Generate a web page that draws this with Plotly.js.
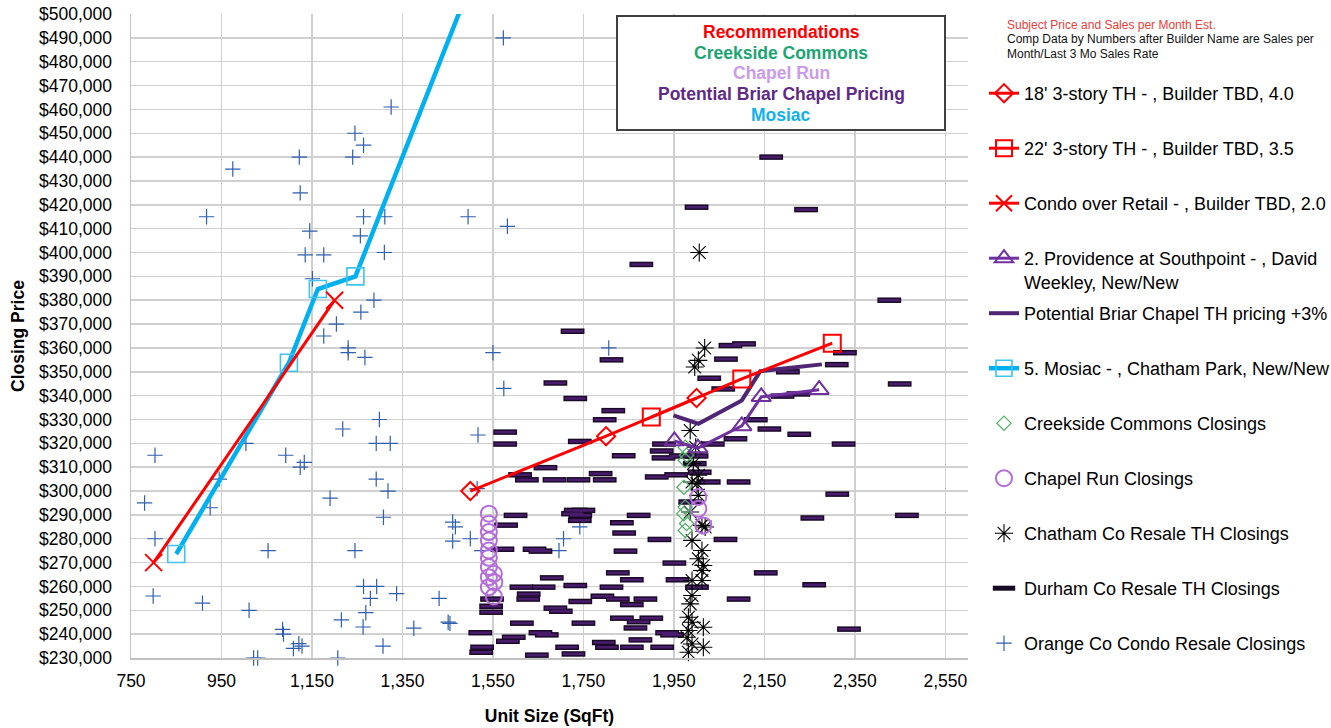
<!DOCTYPE html>
<html><head><meta charset="utf-8">
<script src="https://cdn.plot.ly/plotly-3.0.1.min.js"></script>
<style>html,body{margin:0;padding:0;background:#fff}#chart{width:1331px;height:728px}</style>
</head><body><div id="chart"></div>
<script>
// ---- Recommendation / comp lines ----
const rec18X = [1500, 1800, 2000];
const rec18Y = [300000, 323000, 339000];
const rec22X = [1900, 2100, 2300];
const rec22Y = [331000, 347000, 362000];
const condoX = [800, 1200];
const condoY = [270000, 380000];
const provX = [1951, 2003, 2100, 2143, 2271];
const provY = [321000, 318000, 327300, 339500, 342500];
const briarX = [1949, 2004, 2100, 2141, 2277];
const briarY = [331700, 328200, 338000, 350300, 353100];
const mosaicX = [850, 1099, 1163, 1246, 1520];
const mosaicY = [273600, 353800, 384700, 390000, 522000];

// ---- Closings (sqft, price) ----
const creekside = [[1975,318400],[1978,315000],[1975,312900],[1972,301600],[1975,293300],[1972,290500],[1978,286400],[1975,283500]];
const chapelRun = [[1541,290500],[1541,286300],[1541,282800],[1541,279300],[1541,275100],[1541,272000],[1541,268100],[1552,265300],[1541,263900],[1553,261800],[1541,259700],[1552,255800],[2004,297500],[2004,292600],[2015,285600]];
const chatham = [[2006,400000],[2018,360000],[2004,354800],[1996,352000],[1986,325400],[1998,318400],[1993,311500],[2004,306600],[1990,303800],[2001,303100],[2004,298200],[1986,291200],[2012,285600],[2019,284900],[1990,279300],[2012,275100],[2004,271600],[2015,268800],[2012,266700],[1990,262500],[2012,262500],[1990,256200],[1986,252700],[1982,247100],[1990,245000],[2015,242900],[1982,241500],[1979,238700],[1990,235900],[2015,234500],[1982,232400]];
const durham = [[2165,440000],[2000,419000],[2242,418000],[1878,395000],[2426,380000],[1726,367000],[2075,361000],[2105,361700],[2065,355300],[1812,355000],[2328,358000],[2310,353000],[2028,347300],[1688,345300],[2059,342800],[2202,350000],[2190,339800],[2225,340700],[2449,344900],[1732,338800],[1816,333700],[1797,329900],[1577,324700],[1577,319700],[1742,320800],[1839,314800],[1666,309800],[1610,306800],[1625,304700],[1686,304700],[1739,304700],[1788,307300],[1797,304700],[1912,305900],[1955,306800],[1928,319700],[1923,316800],[1927,313900],[1965,314700],[2000,314700],[2036,319700],[2086,321900],[2131,329900],[2161,326000],[2227,323800],[2325,319700],[1996,311500],[2007,307900],[2027,303800],[2093,303800],[2311,298700],[1986,295400],[1600,289800],[1579,285700],[1733,291900],[1750,291900],[1727,290500],[1743,289800],[1742,287700],[1835,286700],[1872,289800],[1840,282400],[1918,279700],[2064,279700],[2256,288700],[2465,289800],[1571,275600],[1642,275600],[1655,274800],[1843,274800],[1951,269800],[1958,262800],[2153,265700],[2260,260700],[2001,259700],[1680,263600],[1613,259700],[1662,259700],[1732,260400],[1812,259700],[1826,265700],[1857,262800],[1629,256800],[1628,254700],[1743,253700],[1792,255900],[1826,254700],[1857,252400],[1887,254700],[2093,254700],[1548,254700],[1546,251700],[1546,249200],[1688,250900],[1700,249600],[1614,244600],[1750,244600],[1835,246700],[1872,245200],[1900,246700],[1865,242600],[2337,242100],[1522,240600],[1655,240600],[1669,239700],[1596,238700],[1583,237000],[1795,236500],[1802,234500],[1876,237600],[1857,234500],[1924,234500],[1714,234500],[1728,231700],[1526,234500],[1524,232400],[1647,231200],[1655,229700],[1684,229700],[1721,229700],[1773,229700],[1935,240600],[1946,239700]];
const orangeCo = [[1325,461000],[1245,450000],[1264,445000],[1122,440000],[1240,440000],[975,435000],[1124,425000],[917,415000],[1264,415000],[1311,415000],[1495,415000],[1145,409000],[1257,407000],[1135,399000],[1176,399000],[1310,400000],[1151,389000],[1287,380000],[1258,375000],[1204,370000],[1176,365000],[1230,360000],[1230,358000],[1267,356000],[1573,490000],[1582,411000],[1550,358000],[1806,360000],[1574,343000],[1517,323500],[1515,301000],[1299,330000],[1218,326000],[1292,320000],[1323,320000],[1004,320000],[803,315000],[1092,315000],[1124,310000],[1133,312000],[1292,305000],[1318,300000],[945,305000],[1190,297000],[780,295000],[925,293000],[1308,289000],[803,280000],[1461,287000],[1467,285000],[1461,279000],[1500,280000],[1053,275000],[1245,275000],[799,256000],[908,253000],[1011,250000],[1264,260000],[1293,260000],[1337,257000],[1279,255000],[1431,255000],[1269,249000],[1263,243000],[1375,242500],[1215,246000],[1451,245000],[1455,244500],[1085,242000],[1087,240000],[1121,236000],[1109,234000],[1128,235000],[1307,235000],[1021,230000],[1030,230000],[1207,230000],[1525,275000],[1742,285000],[1706,280000],[1696,275000]];

// ---- Text ----
const seriesNames = [
  "18' 3-story TH - , Builder TBD, 4.0",
  "22' 3-story TH - , Builder TBD, 3.5",
  "Condo over Retail - , Builder TBD, 2.0",
  "2. Providence at Southpoint - , David<br>Weekley, New/New",
  "Potential Briar Chapel TH pricing +3%",
  "5. Mosiac - , Chatham Park, New/New",
  "Creekside Commons Closings",
  "Chapel Run Closings",
  "Chatham Co Resale TH Closings",
  "Durham Co Resale TH Closings",
  "Orange Co Condo Resale Closings"
];
const boxLines = ["Recommendations", "Creekside Commons", "Chapel Run", "Potential Briar Chapel Pricing", "Mosiac"];
const noteLines = ["Subject Price and Sales per Month Est.", "Comp Data by Numbers after Builder Name are Sales per", "Month/Last 3 Mo Sales Rate"];

const FONT = "Liberation Sans, Arial, sans-serif";
const xs = a => a.map(p => p[0]);
const ys = a => a.map(p => p[1]);
const nm = (i) => seriesNames[i].indexOf('<br>') >= 0 ? seriesNames[i] : seriesNames[i] + '<br> ';

const traces = [
  {type:'scatter', mode:'markers', x:xs(orangeCo), y:ys(orangeCo), name:nm(10), legendrank:11, legendgroup:'g11',
   marker:{symbol:'cross-thin-open', size:11, color:'#2F5FAE', line:{width:1.2, color:'#2F5FAE'}}, cliponaxis:false},
  {type:'scatter', mode:'markers', x:xs(durham), y:ys(durham), name:nm(9), legendrank:10, legendgroup:'g10',
   marker:{symbol:'line-ew-open', size:17, color:'#1A0A26', line:{width:5.5, color:'#1A0A26'}}, cliponaxis:false},
  {type:'scatter', mode:'markers', x:xs(durham), y:ys(durham), showlegend:false, legendgroup:'g10', hoverinfo:'skip',
   marker:{symbol:'line-ew-open', size:15, color:'#4A1C6E', line:{width:2.5, color:'#4A1C6E'}}, cliponaxis:false},
  {type:'scatter', mode:'markers', x:xs(chatham), y:ys(chatham), name:nm(8), legendrank:9, legendgroup:'g9',
   marker:{symbol:'asterisk-open', size:15, color:'#000000', line:{width:1.1, color:'#000000'}}, cliponaxis:false},
  {type:'scatter', mode:'markers', x:xs(chapelRun), y:ys(chapelRun), name:nm(7), legendrank:8, legendgroup:'g8',
   marker:{symbol:'circle-open', size:16, color:'#B56CDB', line:{width:2, color:'#B56CDB'}}, cliponaxis:false},
  {type:'scatter', mode:'markers', x:xs(creekside), y:ys(creekside), name:nm(6), legendrank:7, legendgroup:'g7',
   marker:{symbol:'diamond-open', size:11, color:'#4DAF62', line:{width:1.2, color:'#4DAF62'}}, cliponaxis:false},
  {type:'scatter', mode:'lines+markers', x:mosaicX, y:mosaicY, name:nm(5), legendrank:6, legendgroup:'g6',
   line:{color:'#00B0F0', width:4.5}, marker:{symbol:'square-open', size:17, color:'#3EC3F2', line:{width:1.6, color:'#3EC3F2'}}, cliponaxis:true},
  {type:'scatter', mode:'lines', x:briarX, y:briarY, name:nm(4), legendrank:5, legendgroup:'g5',
   line:{color:'#4E2674', width:4}},
  {type:'scatter', mode:'lines+markers', x:provX, y:provY, name:nm(3), legendrank:4, legendgroup:'g4',
   line:{color:'#7030A0', width:3}, marker:{symbol:'triangle-up-open', size:17, color:'#7030A0', line:{width:2, color:'#7030A0'}}, cliponaxis:false},
  {type:'scatter', mode:'lines+markers', x:condoX, y:condoY, name:nm(2), legendrank:3, legendgroup:'g3',
   line:{color:'#FF0000', width:3}, marker:{symbol:'x-thin-open', size:17, color:'#FF0000', line:{width:2, color:'#FF0000'}}, cliponaxis:false},
  {type:'scatter', mode:'lines+markers', x:rec22X, y:rec22Y, name:nm(1), legendrank:2, legendgroup:'g2',
   line:{color:'#FF0000', width:3}, marker:{symbol:'square-open', size:17, color:'#FF0000', line:{width:2, color:'#FF0000'}}, cliponaxis:false},
  {type:'scatter', mode:'lines+markers', x:rec18X, y:rec18Y, name:nm(0), legendrank:1, legendgroup:'g1',
   line:{color:'#FF0000', width:3}, marker:{symbol:'diamond-open', size:14, color:'#FF0000', line:{width:2, color:'#FF0000'}}, cliponaxis:false}
];

// plot area: x 131..968 px, y 14..658 px
const L = 131, T = 14, W = 837, H = 644;
const px2x = p => (p - L) / W;
const px2y = p => (T + H - p) / H;

const boxColors = ['#FF0000', '#1BA572', '#C99BEA', '#5E2A86', '#12B1EC'];
const boxYs = [32, 53, 73.5, 94, 115];
const annotations = boxLines.map((t, i) => ({
  xref:'paper', yref:'paper', x:px2x(781), y:px2y(boxYs[i]), xanchor:'center', yanchor:'middle',
  text:t, showarrow:false, font:{family:FONT, size:17.5, weight:'bold', color:boxColors[i]}
}));
const noteColors = ['#E8403A', '#111111', '#111111'];
const noteYs = [25, 39, 53.5];
noteLines.forEach((t, i) => annotations.push({
  xref:'paper', yref:'paper', x:px2x(1005), y:px2y(noteYs[i]), xanchor:'left', yanchor:'middle',
  text:t, showarrow:false, font:{family:FONT, size:12, color:noteColors[i]}
}));

const layout = {
  width:1331, height:728,
  margin:{l:L, r:1331 - L - W, t:T, b:728 - T - H, autoexpand:false},
  paper_bgcolor:'#ffffff', plot_bgcolor:'#ffffff',
  font:{family:FONT, color:'#000000'},
  showlegend:true,
  legend:{x:px2x(984), y:px2y(75), xanchor:'left', yanchor:'top', valign:'top',
          traceorder:'grouped', tracegroupgap:5.2, font:{family:FONT, size:18, color:'#000000'},
          bgcolor:'rgba(0,0,0,0)', borderwidth:0},
  xaxis:{range:[750, 2600], tick0:750, dtick:200, tickformat:',d', ticks:'', showgrid:true,
         gridcolor:'#D0D0D0', gridwidth:1.5, zeroline:false, showline:true, linecolor:'#C0C0C0', linewidth:1.5,
         tickfont:{family:FONT, size:17.5, color:'#000000'}, ticklabelstandoff:6,
         title:{text:'Unit Size (SqFt)', font:{family:FONT, size:17.5, weight:'bold', color:'#000000'}, standoff:20}},
  yaxis:{range:[230000, 500000], dtick:10000, tickformat:',d', tickprefix:'$', ticks:'', showgrid:true,
         gridcolor:'#D0D0D0', gridwidth:1.5, zeroline:false, showline:true, linecolor:'#C0C0C0', linewidth:1.5,
         tickfont:{family:FONT, size:17.5, color:'#000000'}, ticklabelstandoff:14,
         title:{text:'Closing Price', font:{family:FONT, size:17.5, weight:'bold', color:'#000000'}, standoff:10}},
  shapes:[{type:'rect', xref:'paper', yref:'paper', x0:px2x(617), x1:px2x(945), y0:px2y(130), y1:px2y(16),
           line:{color:'#404040', width:2}, fillcolor:'#ffffff', layer:'above'}],
  annotations:annotations,
  hovermode:false
};

Plotly.newPlot('chart', traces, layout, {displayModeBar:false, staticPlot:true});
</script>
</body></html>
